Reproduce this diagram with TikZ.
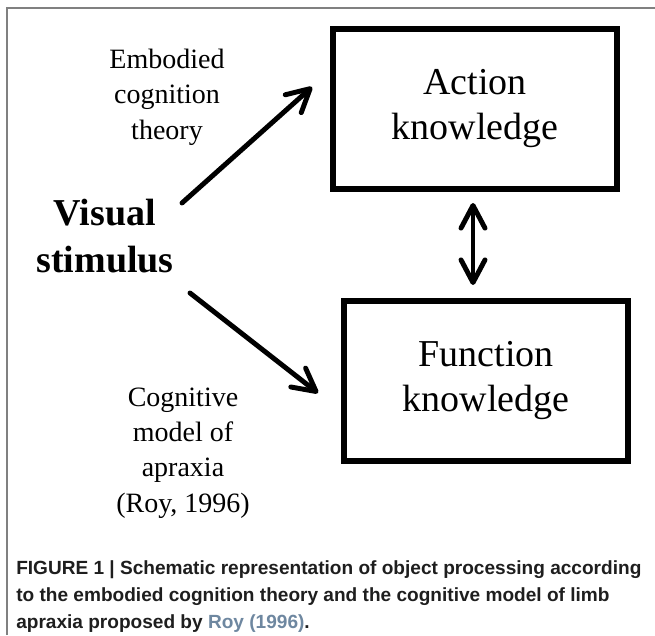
\documentclass[tikz,border=0pt]{standalone}
\usepackage{fontspec}
\setmainfont{Liberation Serif}
\newfontfamily\captfont{Liberation Sans}
\usepackage{tikz}
\usetikzlibrary{
	arrows.meta, positioning, calc
}
\definecolor{figgray}   {RGB}{128, 128, 128}
\definecolor{figdark}   {RGB}{ 30,  30,  30}
\definecolor{figlink}   {RGB}{110, 135, 160}

\begin{document}
\begin{tikzpicture}[x=0.75pt,y=-0.75pt,
		>={Straight Barb[length=17pt,width=18pt,round]},
		knowbox/.style={draw,line width=4.2pt,minimum width=213pt,minimum height=120pt,
			inner sep=0pt,align=center,font=\fontsize{28.5}{33.75}\selectfont},
		fatarrow/.style={line width=3.7pt,line cap=round},
		sidetext/.style={align=center,inner sep=0pt,font=\fontsize{21}{26.5}\selectfont}]
				\useasboundingbox (0,0) rectangle (655,635);
				\draw[figgray,line width=1.5pt] (7,635)--(7,8)--(655,8);
				\node[knowbox] (act) at (475,109) {Action\\knowledge};
				\node[knowbox] (fun) at (486,381) {Function\\knowledge};
				\node[align=center,inner sep=0pt,font=\bfseries\fontsize{28.5}{35.25}\selectfont] (vis) at (105,236) {Visual\\stimulus};
				\node[sidetext] (emb) at (167,97) {Embodied\\cognition\\theory};
				\node[sidetext] (cog) at (183,453) {Cognitive\\model of\\apraxia\\(Roy, 1996)};
				\coordinate (uptail) at (182,203);
				\coordinate (uphead) at (312,87);
				\coordinate (dntail) at (190,293);
				\coordinate (dnhead) at (318,393);
				\coordinate (dbltop) at (473,203);
				\coordinate (dblbot) at (473,285);
				\draw[fatarrow,->] (uptail)--(uphead);
				\draw[fatarrow,->] (dntail)--(dnhead);
				\draw[fatarrow,<->] (dbltop)--(dblbot);
				\node[anchor=north west,inner sep=0pt,align=left,text=figdark,
					font=\captfont\bfseries\fontsize{14.3}{20.25}\selectfont] (capt) at (16,560)
					{FIGURE 1 | Schematic representation of object processing according\\
					to the embodied cognition theory and the cognitive model of limb\\
					apraxia proposed by \textcolor{figlink}{Roy (1996)}.};
			\end{tikzpicture}
\end{document}
